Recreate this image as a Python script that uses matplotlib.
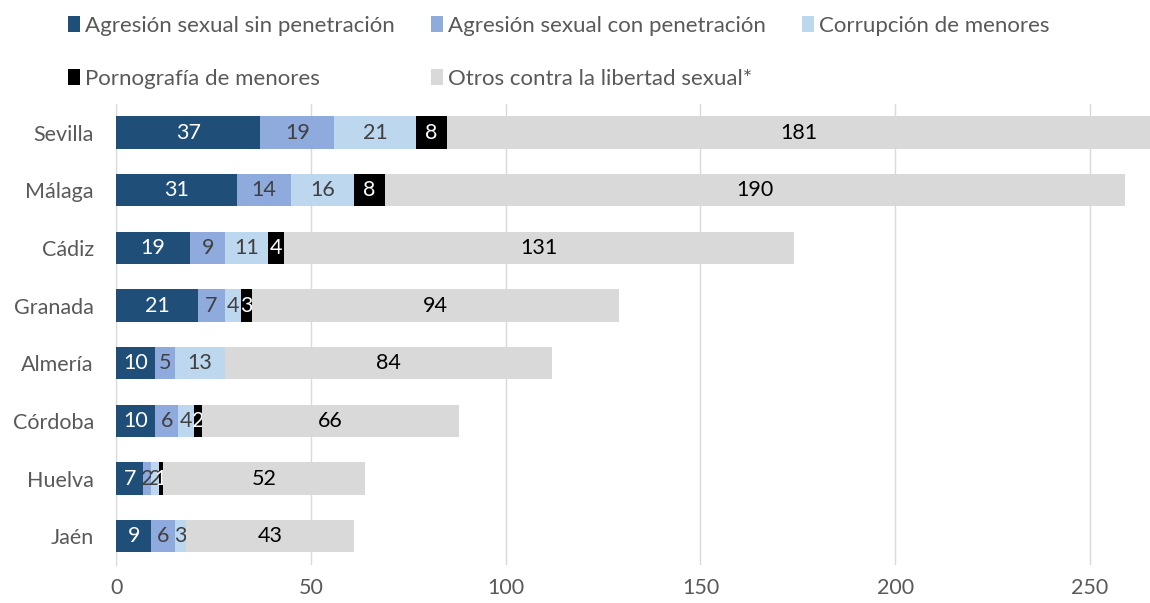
import matplotlib.pyplot as plt
import numpy as np

plt.rcParams['font.family'] = ['Lato', 'DejaVu Sans']

provincias = ['Sevilla', 'Málaga', 'Cádiz', 'Granada', 'Almería', 'Córdoba', 'Huelva', 'Jaén']
series = ['Agresión sexual sin penetración', 'Agresión sexual con penetración',
          'Corrupción de menores', 'Pornografía de menores', 'Otros contra la libertad sexual*']
sin_pen = [37, 31, 19, 21, 10, 10, 7, 9]
con_pen = [19, 14, 9, 7, 5, 6, 2, 6]
corrupcion = [21, 16, 11, 4, 13, 4, 2, 3]
pornografia = [8, 8, 4, 3, 0, 2, 1, 0]
otros = [181, 190, 131, 94, 84, 66, 52, 43]

colores = ['#1F4E79', '#8FAADC', '#BDD7EE', '#000000', '#D9D9D9']
color_texto = ['white', '#404040', '#404040', 'white', 'black']

fig = plt.figure(figsize=(11.5, 6.03), dpi=100)
ax = fig.add_axes([0.101, 0.063, 0.899, 0.765])

y = np.arange(len(provincias))
left = np.zeros(len(provincias))
handles = []
for vals, nombre, c, tc in zip([sin_pen, con_pen, corrupcion, pornografia, otros], series, colores, color_texto):
    vals = np.array(vals)
    bars = ax.barh(y, vals, left=left, height=0.56, color=c, label=nombre, zorder=3)
    ax.bar_label(bars, labels=[str(v) if v > 0 else '' for v in vals], label_type='center',
                 color=tc, fontsize=15.5)
    handles.append(bars)
    left += vals

ax.set_yticks(y)
ax.set_yticklabels(provincias)
ax.set_ylim(len(provincias) - 0.5, -0.5)
ax.set_xlim(0, 265.4)
ax.set_xticks([0, 50, 100, 150, 200, 250])
ax.tick_params(axis='both', length=0, labelsize=15.5, labelcolor='#595959')
ax.tick_params(axis='y', pad=16)
ax.tick_params(axis='x', pad=9)
ax.grid(axis='x', color='#D9D9D9', linewidth=1, zorder=0)
for s in ['top', 'right', 'bottom']:
    ax.spines[s].set_visible(False)
ax.spines['left'].set_color('#D9D9D9')

# legend fills column by column, reorder so it reads row by row
orden = [0, 3, 1, 4, 2]
fig.legend([handles[i] for i in orden], [series[i] for i in orden],
           loc='upper left', bbox_to_anchor=(0.0455, 1.0), ncol=3, frameon=False,
           fontsize=16, handlelength=0.55, handleheight=0.75, handletextpad=0.2,
           columnspacing=1.65, labelspacing=1.5, borderpad=0.2, labelcolor='#595959')

fig.savefig('out.png', dpi=100)
